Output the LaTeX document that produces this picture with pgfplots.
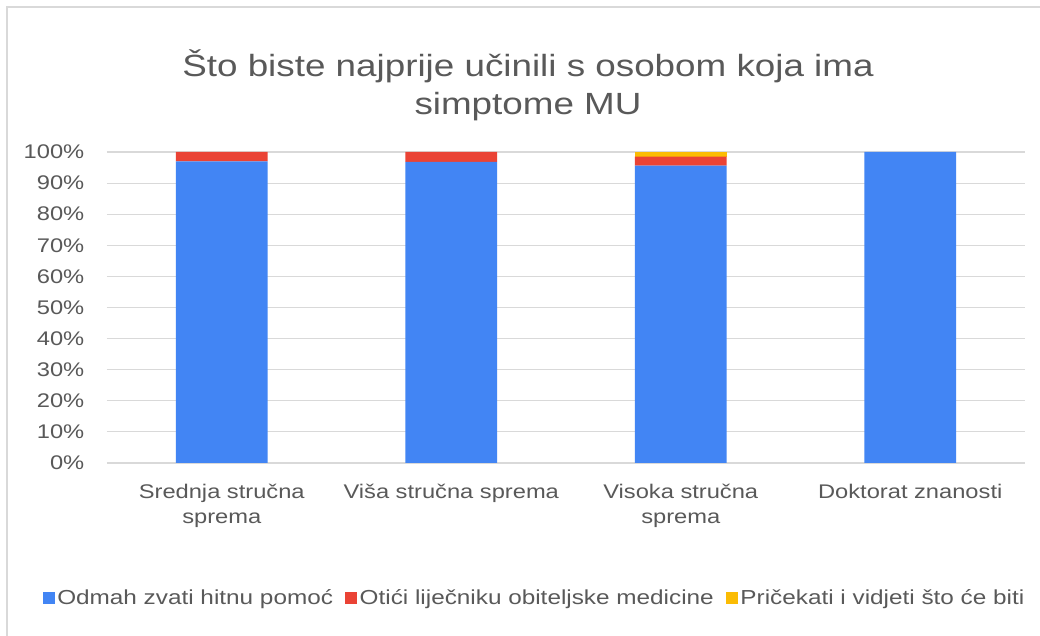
\documentclass[border=0pt]{standalone}
\usepackage{fontspec}
\setmainfont{Liberation Sans}[FakeStretch=1.2]
\usepackage{pgfplots}
\pgfplotsset{compat=1.18}
\definecolor{cblue}{HTML}{4285F4}
\definecolor{cred}{HTML}{EA4335}
\definecolor{cyellow}{HTML}{FBBC04}
\definecolor{txt}{HTML}{595959}
\definecolor{gridc}{HTML}{D9D9D9}
\begin{document}
\begin{tikzpicture}
\useasboundingbox (0,0) rectangle (780pt,477pt);
\fill[white] (0,0) rectangle (780pt,477pt);
\draw[black!15, line width=1pt] (5.25pt,-5pt) rectangle (785pt,471.75pt);
\node[anchor=north, align=center, text=txt, font=\fontsize{23}{28.5}\selectfont]
  at (396pt,443.5pt) {Što biste najprije učinili s osobom koja ima\\simptome MU};
\begin{axis}[
  at={(80.25pt,129.75pt)}, anchor=south west,
  scale only axis, width=688.5pt, height=233.25pt,
  ybar stacked, bar width=0.4,
  xmin=-0.5, xmax=3.5, ymin=0, ymax=100,
  axis line style={draw=none}, major tick length=0pt,
  ytick={0,10,...,100}, ymajorgrids,
  grid style={gridc, line width=0.8pt},
  yticklabel={\pgfmathprintnumber{\tick}\%},
  /pgf/number format/assume math mode=true,
  xtick={0,1,2,3},
  xticklabels={{Srednja stručna\\sprema},{Viša stručna sprema},{Visoka stručna\\sprema},{Doktorat znanosti}},
  tick label style={text=txt, font=\fontsize{14.8}{19}\selectfont},
  x tick label style={align=center, yshift=-12pt},
  y tick label style={xshift=-13.5pt},
  legend style={at={(0.466,-0.434)}, anchor=center, draw=none, fill=none,
    legend columns=3, font=\fontsize{15.2}{18}\selectfont, text=txt,
    /tikz/every even column/.append style={column sep=7pt}},
  legend image code/.code={\fill[#1] (0pt,-4.5pt) rectangle (9pt,4.5pt);},
]
\addplot[fill=cblue, draw=none] coordinates {(0,97) (1,96.8) (2,95.6) (3,100)};
\addplot[fill=cred, draw=none] coordinates {(0,3) (1,3.2) (2,2.9) (3,0)};
\addplot[fill=cyellow, draw=none] coordinates {(0,0) (1,0) (2,1.5) (3,0)};
\legend{Odmah zvati hitnu pomoć, Otići liječniku obiteljske medicine, Pričekati i vidjeti što će biti}
\end{axis}
\end{tikzpicture}
\end{document}
